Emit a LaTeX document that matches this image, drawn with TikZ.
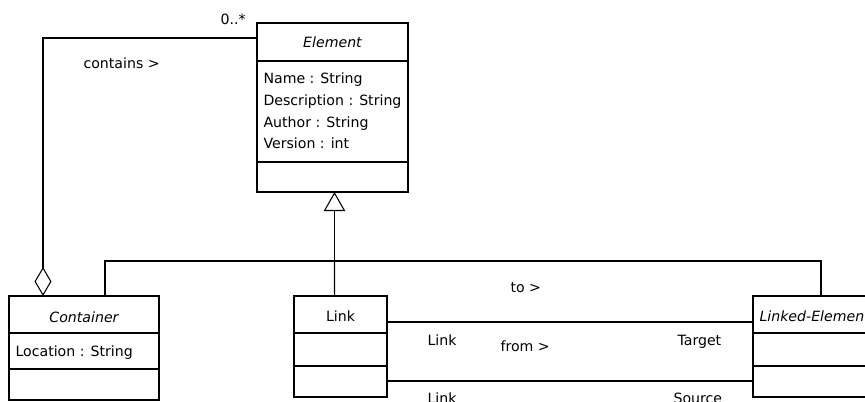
\documentclass[tikz,border=0pt]{standalone}
\usepackage{fontspec}
\setmainfont{DejaVu Sans}
\usetikzlibrary{arrows.meta}
\begin{document}
\begin{tikzpicture}[x=0.75pt,y=-0.75pt,
  line width=0.8pt,
  every node/.style={font=\fontsize{10.6pt}{12pt}\selectfont},
  umlbox/.style={draw,inner sep=0pt,outer sep=0pt,anchor=north west},
  txt/.style={inner sep=0pt,anchor=base west},
  ctxt/.style={inner sep=0pt,anchor=base},
  title/.style={ctxt,font=\fontsize{10.6pt}{12pt}\selectfont\itshape},
  gen/.style={-{Triangle[open,fill=white,length=14.25pt,width=16pt]}},
  agg/.style={-{Diamond[open,fill=white,length=21.75pt,width=12.75pt]}}]
\clip (0,0) rectangle (865,401);

% classes
\node[umlbox,minimum width=113.25pt,minimum height=126.75pt] (elem) at (257,23) {};
\node[umlbox,minimum width=112.5pt,minimum height=78pt] (cont) at (9,296) {};
\node[umlbox,minimum width=69.75pt,minimum height=75.75pt] (link) at (294,296) {};
\node[umlbox,minimum width=110.25pt,minimum height=75.75pt] (lel) at (753,296) {};

% compartment separators
\draw ([yshift=-28.5pt]elem.north west) -- ([yshift=-28.5pt]elem.north east);
\draw ([yshift=-104.25pt]elem.north west) -- ([yshift=-104.25pt]elem.north east);
\draw ([yshift=-27.75pt]cont.north west) -- ([yshift=-27.75pt]cont.north east);
\draw ([yshift=-54.75pt]cont.north west) -- ([yshift=-54.75pt]cont.north east);
\draw ([yshift=-27.75pt]link.north west) -- ([yshift=-27.75pt]link.north east);
\draw ([yshift=-52.5pt]link.north west) -- ([yshift=-52.5pt]link.north east);
\draw ([yshift=-27.75pt]lel.north west) -- ([yshift=-27.75pt]lel.north east);
\draw ([yshift=-52.5pt]lel.north west) -- ([yshift=-52.5pt]lel.north east);

% class texts
\node[title] (elemname) at (332.5,47) {Element};
\node[txt] (a1) at (263,83) {Name : String};
\node[txt] (a2) at (263,105) {Description : String};
\node[txt] (a3) at (263,127) {Author : String};
\node[txt] (a4) at (263,148) {Version : int};
\node[title] (contname) at (84,322) {Container};
\node[txt] (c1) at (15,356) {Location : String};
\node[ctxt] (linkname) at (340.5,321) {Link};
\node[title,anchor=base west] (lelname) at (759,321) {Linked-Element};

% generalization tree
\coordinate (bus) at (334.5,261);
\draw ([xshift=72pt]cont.north west) -- ++(0,-35) -| ([xshift=51pt]lel.north west);
\draw ([xshift=30.4pt]link.north west) -- (bus);
\draw[gen] (bus) -- (bus |- elem.south);

% aggregation
\draw[agg] ([yshift=-11.25pt]elem.north west) -| ([xshift=25.5pt]cont.north west);
\node[txt] (mult) at (220,24) {0..*};
\node[txt] (contains) at (83,68) {contains >};

% associations between Link and Linked-Element
\draw ([yshift=-19.5pt]link.north east) -- ([yshift=-19.5pt]lel.north west);
\draw ([yshift=-63.75pt]link.north east) -- ([yshift=-63.75pt]lel.north west);
\node[txt] (to) at (510,292) {to >};
\node[txt] (from) at (500,351) {from >};
\node[txt] (rl1) at (427,345) {Link};
\node[txt] (rt) at (677,345) {Target};
\node[txt] (rl2) at (427,403) {Link};
\node[txt] (rs) at (673,403) {Source};
\end{tikzpicture}
\end{document}
